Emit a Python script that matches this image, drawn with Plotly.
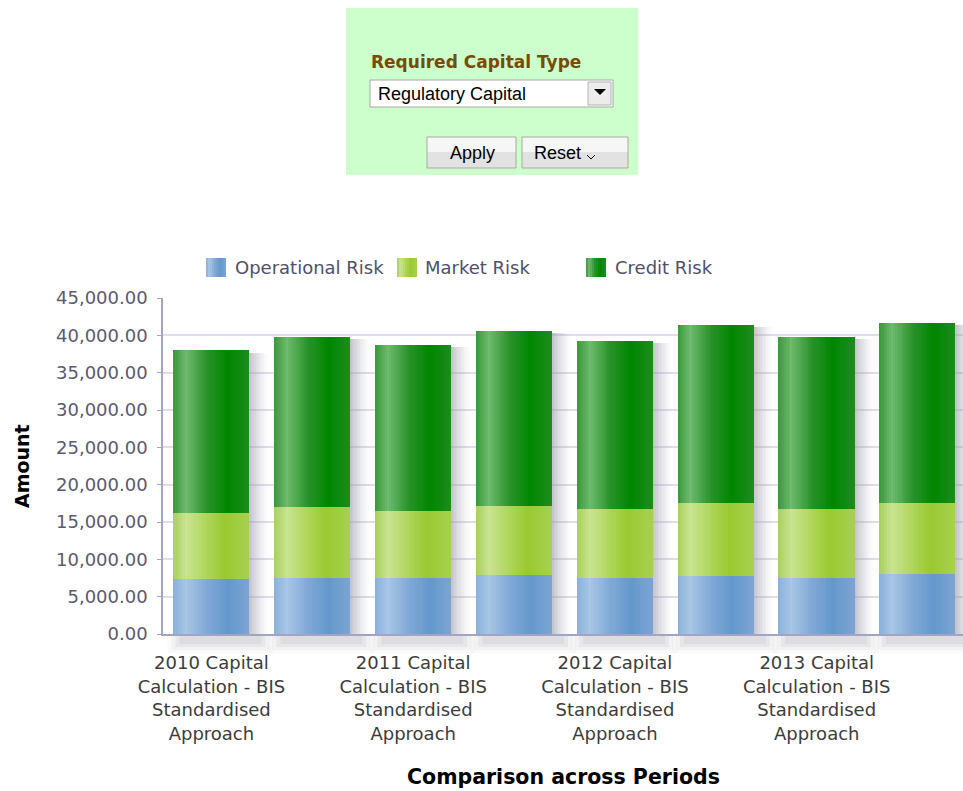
import plotly.graph_objects as go

# ---------------------------------------------------------------- data
bar_index = [0, 1, 2, 3, 4, 5, 6, 7]
operational_risk = [7300, 7550, 7550, 7850, 7550, 7800, 7550, 8100]
market_risk = [8850, 9400, 8900, 9350, 9200, 9700, 9150, 9400]
credit_risk = [21850, 22850, 22250, 23400, 22550, 23900, 23100, 24200]

series_names = ["Operational Risk", "Market Risk", "Credit Risk"]

period_tick_positions = [0, 2, 4, 6]
period_tick_labels = [
    "2010 Capital<br>Calculation - BIS<br>Standardised<br>Approach",
    "2011 Capital<br>Calculation - BIS<br>Standardised<br>Approach",
    "2012 Capital<br>Calculation - BIS<br>Standardised<br>Approach",
    "2013 Capital<br>Calculation - BIS<br>Standardised<br>Approach",
]

# ---------------------------------------------------------------- geometry
FIG_W, FIG_H = 963, 791
PLOT_L, PLOT_R, PLOT_T, PLOT_B = 163, 963, 298, 634
BAR_W = 0.75          # bar width in category units
N_STRIPS = 38         # vertical strips used to shade each bar

FONT = "DejaVu Sans"
AXIS_COLOR = "#a3a3c2"
GRID_COLOR = "#dedee9"


def px(x):
    """pixel x -> paper x"""
    return (x - PLOT_L) / (PLOT_R - PLOT_L)


def py(y):
    """pixel y -> paper y"""
    return (PLOT_B - y) / (PLOT_B - PLOT_T)


def shade(stops, t):
    for (t0, c0), (t1, c1) in zip(stops, stops[1:]):
        if t <= t1:
            f = 0 if t1 == t0 else (t - t0) / (t1 - t0)
            return "rgb(%d,%d,%d)" % tuple(round(a + (b - a) * f) for a, b in zip(c0, c1))
    return "rgb(%d,%d,%d)" % stops[-1][1]


gradients = {
    "Operational Risk": [(0, (138, 176, 218)), (0.17, (168, 198, 229)), (0.45, (128, 168, 214)),
                         (0.72, (100, 152, 204)), (1, (124, 164, 211))],
    "Market Risk": [(0, (168, 207, 90)), (0.17, (201, 228, 145)), (0.45, (175, 213, 88)),
                    (0.68, (153, 201, 48)), (1, (168, 208, 82))],
    "Credit Risk": [(0, (56, 152, 56)), (0.17, (110, 186, 110)), (0.45, (40, 146, 40)),
                    (0.72, (0, 134, 0)), (1, (30, 140, 30))],
}

fig = go.Figure()

# soft shadow to the right of every bar
totals = [a + b + c for a, b, c in zip(operational_risk, market_risk, credit_risk)]
shadow_strips = 12
shadow_span = 0.19
for k in range(shadow_strips):
    alpha = 0.55 * (1 - k / shadow_strips) ** 1.4
    fig.add_trace(go.Bar(
        x=bar_index, y=[t - 300 for t in totals], base=0,
        width=shadow_span / shadow_strips,
        offset=BAR_W / 2 + k * shadow_span / shadow_strips,
        marker=dict(color="rgba(150,150,168,%.3f)" % alpha, line=dict(width=0)),
        showlegend=False, hoverinfo="skip",
    ))

# stacked bars, each segment drawn as shaded vertical strips
bases = [0] * len(bar_index)
for name, values in zip(series_names, [operational_risk, market_risk, credit_risk]):
    for k in range(N_STRIPS):
        t = (k + 0.5) / N_STRIPS
        fig.add_trace(go.Bar(
            x=bar_index, y=values, base=list(bases),
            width=BAR_W / N_STRIPS,
            offset=-BAR_W / 2 + k * BAR_W / N_STRIPS,
            marker=dict(color=shade(gradients[name], t), line=dict(width=0)),
            name=name, showlegend=False,
            hovertemplate=name + ": %{y:,.2f}<extra></extra>" if k == N_STRIPS // 2 else None,
            hoverinfo=None if k == N_STRIPS // 2 else "skip",
        ))
    bases = [b + v for b, v in zip(bases, values)]

shapes = []
annotations = []

# blurred floor shadow under each bar, just below the axis line
for i in bar_index:
    for j, (grow, a) in enumerate([(0.0, 0.10), (0.04, 0.08), (0.08, 0.06), (0.12, 0.04)]):
        shapes.append(dict(type="rect", xref="x", yref="paper",
                           x0=i - BAR_W / 2 + 0.06 - grow, x1=i + BAR_W / 2 + 0.12 + grow,
                           y0=py(644 + 3 * j), y1=py(636),
                           fillcolor="rgba(120,120,135,%.2f)" % a, line=dict(width=0),
                           layer="below"))

# ---------------------------------------------------------------- legend
legend_items = [(206, 233), (397, 423), (586, 613)]
for (sx, tx), name in zip(legend_items, series_names):
    n = 10
    for k in range(n):
        x0 = sx + k * 20 / n
        shapes.append(dict(type="rect", xref="paper", yref="paper",
                           x0=px(x0), x1=px(x0 + 20 / n), y0=py(277), y1=py(258),
                           fillcolor=shade(gradients[name], (k + 0.5) / n), line=dict(width=0)))
    annotations.append(dict(xref="paper", yref="paper", x=px(tx), y=py(267),
                            text=name, showarrow=False, xanchor="left", yanchor="middle",
                            font=dict(family=FONT, size=18, color="#50506a")))

# ---------------------------------------------------------------- axis titles
annotations.append(dict(xref="paper", yref="paper", x=px(22), y=py(466), text="<b>Amount</b>",
                        textangle=-90, showarrow=False, xanchor="center", yanchor="middle",
                        font=dict(family=FONT, size=19, color="#000000")))
annotations.append(dict(xref="paper", yref="paper", x=px(563), y=py(777),
                        text="<b>Comparison across Periods</b>", showarrow=False,
                        xanchor="center", yanchor="middle",
                        font=dict(family=FONT, size=20.5, color="#000000")))

# ---------------------------------------------------------------- prompt panel
shapes.append(dict(type="rect", xref="paper", yref="paper", x0=px(346), x1=px(638),
                   y0=py(175), y1=py(8), fillcolor="#ccffcc", line=dict(width=0), layer="below"))
annotations.append(dict(xref="paper", yref="paper", x=px(369), y=py(62),
                        text="<b>Required Capital Type</b>", showarrow=False,
                        xanchor="left", yanchor="middle",
                        font=dict(family=FONT, size=17, color="#7a4a00")))
# dropdown
shapes.append(dict(type="rect", xref="paper", yref="paper", x0=px(370), x1=px(613),
                   y0=py(107), y1=py(80), fillcolor="#ffffff",
                   line=dict(color="#a8a8a8", width=1)))
shapes.append(dict(type="rect", xref="paper", yref="paper", x0=px(588), x1=px(611),
                   y0=py(105), y1=py(82), fillcolor="#ececec",
                   line=dict(color="#b4b4b4", width=1)))
shapes.append(dict(type="path", xref="paper", yref="paper",
                   path="M %f %f L %f %f L %f %f Z" % (px(594), py(89), px(606), py(89), px(600), py(95)),
                   fillcolor="#000000", line=dict(width=0)))
annotations.append(dict(xref="paper", yref="paper", x=px(376), y=py(94),
                        text="Regulatory Capital", showarrow=False,
                        xanchor="left", yanchor="middle",
                        font=dict(family="Liberation Sans", size=18, color="#000000")))
# buttons
for x0, x1, label, cx in [(427, 516, "Apply", 472), (522, 628, "Reset", 557)]:
    shapes.append(dict(type="rect", xref="paper", yref="paper", x0=px(x0), x1=px(x1),
                       y0=py(168), y1=py(152), fillcolor="#e2e2e2", line=dict(width=0)))
    shapes.append(dict(type="rect", xref="paper", yref="paper", x0=px(x0), x1=px(x1),
                       y0=py(152), y1=py(137), fillcolor="#f6f6f6", line=dict(width=0)))
    shapes.append(dict(type="rect", xref="paper", yref="paper", x0=px(x0), x1=px(x1),
                       y0=py(168), y1=py(137), line=dict(color="#a9a9a0", width=1)))
    annotations.append(dict(xref="paper", yref="paper", x=px(cx), y=py(153),
                            text=label, showarrow=False, xanchor="center", yanchor="middle",
                            font=dict(family="Liberation Sans", size=18, color="#000000")))
shapes.append(dict(type="path", xref="paper", yref="paper",
                   path="M %f %f L %f %f L %f %f" % (px(587), py(155), px(591), py(159), px(595), py(155)),
                   line=dict(color="#000000", width=1)))

fig.update_layout(
    width=FIG_W, height=FIG_H,
    margin=dict(l=PLOT_L, r=FIG_W - PLOT_R, t=PLOT_T, b=FIG_H - PLOT_B, pad=0),
    paper_bgcolor="#ffffff", plot_bgcolor="#ffffff",
    barmode="overlay", bargap=0,
    showlegend=False,
    shapes=shapes, annotations=annotations,
    xaxis=dict(
        range=[-0.48, 7.45], tickmode="array",
        tickvals=period_tick_positions, ticktext=period_tick_labels,
        showgrid=False, zeroline=False, showline=True, linecolor=AXIS_COLOR, linewidth=1.5,
        ticks="", ticklabelstandoff=12,
        tickfont=dict(family=FONT, size=18, color="#3c3c3c"),
    ),
    yaxis=dict(
        range=[0, 45000], dtick=5000, tickformat=",.2f",
        showgrid=True, gridcolor=GRID_COLOR, gridwidth=1.5, zeroline=False,
        showline=True, linecolor=AXIS_COLOR, linewidth=1.5,
        ticks="outside", ticklen=4, tickcolor=AXIS_COLOR, ticklabelstandoff=6,
        tickfont=dict(family=FONT, size=18, color="#5a5a72"),
    ),
)

fig.write_html("out.html")
